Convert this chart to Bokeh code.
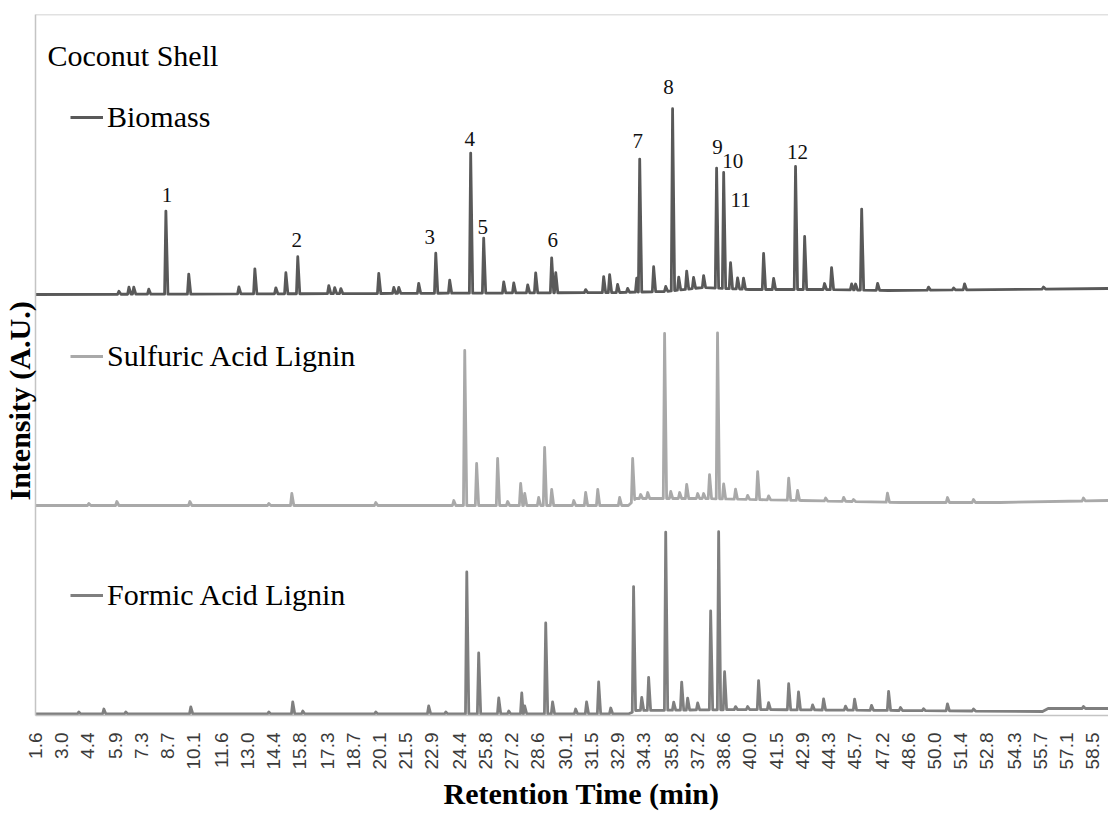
import numpy as np
from bokeh.plotting import figure
from bokeh.models import (Range1d, FixedTicker, NumeralTickFormatter, Label,
                          Legend, LegendItem, Span, ColumnDataSource, Title)
from bokeh.core.properties import value
from bokeh.embed import file_html
from bokeh.resources import INLINE

# ---------------------------------------------------------------------------
# Pyrolysis GC-MS chromatograms of coconut shell fractions
# Retention time in minutes, intensity in arbitrary units (stacked traces)
# ---------------------------------------------------------------------------
SAMPLE_NAMES = ["Biomass", "Sulfuric Acid Lignin", "Formic Acid Lignin"]

TICK_LABELS = ["1.6", "3.0", "4.4", "5.9", "7.3", "8.7", "10.1", "11.6", "13.0",
               "14.4", "15.8", "17.3", "18.7", "20.1", "21.5", "22.9", "24.4",
               "25.8", "27.2", "28.6", "30.1", "31.5", "32.9", "34.3", "35.8",
               "37.2", "38.6", "40.0", "41.5", "42.9", "44.3", "45.7", "47.2",
               "48.6", "50.0", "51.4", "52.8", "54.3", "55.7", "57.1", "58.5"]

# Biomass: baseline level (stack offset included) and peaks above it
BIOMASS_BASE_RT = [1.6, 20.0, 33.0, 35.5, 37.5, 40.0, 44.0, 47.5, 59.35]
BIOMASS_BASE = [421, 422, 423, 424, 428, 426, 426, 425, 427]
BIOMASS_RT = [6.07, 6.61, 6.87, 7.68, 8.60, 9.83, 12.53, 13.39, 14.52, 15.06,
              15.70, 17.37, 17.69, 18.02, 20.06, 20.87, 21.14, 22.21, 23.13,
              23.88, 25.01, 25.71, 26.79, 27.33, 28.08, 28.51, 29.37, 29.59,
              31.20, 32.17, 32.49, 32.92, 33.46, 33.95, 34.11, 34.86, 35.51,
              35.88, 36.21, 36.64, 37.01, 37.55, 38.25, 38.63, 39.00, 39.38,
              39.70, 40.78, 41.32, 42.50, 42.99, 44.06, 44.44, 45.52, 45.73,
              46.06, 46.92, 49.66, 51.01, 51.60, 55.85]
BIOMASS_H = [3, 7, 7, 5, 83, 20, 7, 25, 6, 21,
             37, 8, 6, 5, 20, 6, 6, 10, 40,
             13, 140, 55, 11, 10, 8, 20, 35, 20,
             3, 16, 18, 8, 4, 14, 133, 25, 5,
             182, 13, 18, 11, 12, 120, 116, 26, 11,
             11, 36, 11, 123, 53, 6, 22, 6, 6,
             81, 7, 3, 2, 6, 2]

# Sulfuric acid lignin
SULFURIC_BASE_RT = [1.6, 33.5, 33.9, 37.5, 42.8, 48.2, 53.5, 59.35]
SULFURIC_BASE = [210, 210, 217, 217, 215, 213, 213, 215]
SULFURIC_RT = [4.45, 5.96, 9.89, 14.14, 15.38, 19.90, 24.10, 24.69, 25.33,
               26.46, 27.00, 27.70, 27.92, 28.67, 28.99, 29.37, 30.56, 31.20,
               31.85, 33.03, 33.73, 34.16, 34.54, 35.45, 35.78, 36.26, 36.64,
               37.23, 37.55, 37.87, 38.30, 38.63, 39.27, 39.92, 40.46, 41.05,
               42.13, 42.61, 44.12, 45.09, 45.62, 47.45, 50.68, 52.08, 58.00]
SULFURIC_H = [2, 4, 4, 2, 12, 3, 5, 155, 42,
              47, 4, 22, 12, 8, 58, 16, 5, 13,
              16, 8, 43, 4, 6, 165, 7, 6, 14,
              5, 5, 24, 166, 15, 10, 4, 28, 4,
              22, 10, 3, 4, 2, 9, 5, 3, 3]

# Formic acid lignin
FORMIC_BASE_RT = [1.6, 33.5, 33.9, 40.0, 48.0, 55.8, 56.1, 59.35]
FORMIC_BASE = [1.5, 1.5, 5, 6, 5, 4, 7, 7]
FORMIC_RT = [3.91, 5.26, 6.44, 9.94, 14.14, 15.43, 15.97, 19.90, 22.75, 23.67,
             24.80, 25.44, 26.52, 27.06, 27.76, 27.92, 29.05, 29.42, 30.66,
             31.25, 31.90, 32.55, 33.78, 34.22, 34.59, 35.51, 35.94, 36.37,
             36.69, 37.23, 37.93, 38.36, 38.68, 39.27, 39.92, 40.51, 41.05,
             42.13, 42.66, 43.42, 44.01, 45.19, 45.68, 46.59, 47.51, 48.15,
             49.39, 50.68, 52.08, 58.00]
FORMIC_H = [2, 5, 2, 7, 2, 12, 3, 2, 8, 2,
            142, 61, 16, 3, 21, 8, 91, 12, 5,
            12, 32, 6, 125, 13, 33, 178, 8, 28,
            12, 7, 99, 178, 38, 3, 3, 29, 7,
            26, 18, 5, 11, 4, 11, 5, 19, 3,
            2, 7, 2, 2]

# Numbered compounds in the biomass trace
PEAK_IDS = ["1", "2", "3", "4", "5", "6", "7", "8", "9", "10", "11", "12"]
PEAK_ID_RT = [8.60, 15.70, 23.13, 25.01, 25.71, 29.37, 34.11, 35.88, 38.25,
              38.63, 39.00, 42.50]

# label nudges (screen px) so the numbers sit clear of the spikes
ID_DX = [1, -1, -6, -1, -1, 1, -2, -4, 1, 9, 10, 2]
ID_DY = [16, 17, 16, 14, 11, 18, 18, 22, 21, 11, 63, 15]

COLORS = ["#595959", "#A9A9A9", "#7F7F7F"]


def build_trace(base_rt, base_y, peak_rt, peak_h, lead=0.07, tail=0.11):
    """Polyline of a chromatogram: baseline knots plus a narrow spike per peak."""
    base_rt = np.asarray(base_rt, float)
    base_y = np.asarray(base_y, float)
    prt = np.asarray(peak_rt, float)
    ph = np.asarray(peak_h, float)
    assert len(prt) == len(ph)
    order = np.argsort(prt)
    prt, ph = prt[order], ph[order]
    mids = (prt[1:] + prt[:-1]) / 2.0
    left = prt - lead
    right = prt + tail
    left[1:] = np.maximum(left[1:], mids)
    right[:-1] = np.minimum(right[:-1], mids)

    pts = []
    for t, y in zip(base_rt, base_y):
        if not np.any((left <= t) & (t <= right)):
            pts.append((t, y))
    for l, t, r, h in zip(left, prt, right, ph):
        b = np.interp(t, base_rt, base_y)
        pts.append((l, np.interp(l, base_rt, base_y)))
        pts.append((t, b + h))
        pts.append((r, np.interp(r, base_rt, base_y)))
    pts.sort(key=lambda p: p[0])
    xs, ys = zip(*pts)
    return list(xs), list(ys)


traces = [
    build_trace(BIOMASS_BASE_RT, BIOMASS_BASE, BIOMASS_RT, BIOMASS_H),
    build_trace(SULFURIC_BASE_RT, SULFURIC_BASE, SULFURIC_RT, SULFURIC_H),
    build_trace(FORMIC_BASE_RT, FORMIC_BASE, FORMIC_RT, FORMIC_H),
]

p = figure(width=1108, height=813, output_backend="svg", toolbar_location=None,
           x_range=Range1d(1.58, 59.35), y_range=Range1d(0, 701),
           min_border_left=35, min_border_right=0, min_border_top=14,
           min_border_bottom=98)
p.outline_line_color = None
p.grid.visible = False
p.background_fill_color = "white"
p.border_fill_color = "white"

renderers = []
for (xs, ys), color in zip(traces, COLORS):
    src = ColumnDataSource(data=dict(rt=xs, intensity=ys))
    r = p.line("rt", "intensity", source=src, line_color=color, line_width=2.8,
               line_join="round")
    renderers.append(r)

# compound numbers above the biomass spikes
bio_idx = [BIOMASS_RT.index(t) for t in PEAK_ID_RT]
id_apex = [float(np.interp(BIOMASS_RT[i], BIOMASS_BASE_RT, BIOMASS_BASE)) + BIOMASS_H[i]
           for i in bio_idx]
id_src = ColumnDataSource(data=dict(rt=PEAK_ID_RT, apex=id_apex, label=PEAK_IDS,
                                    dx=ID_DX, dy=[-d for d in ID_DY]))
p.text(x="rt", y="apex", text="label", source=id_src, x_offset="dx", y_offset="dy",
       text_align="center", text_baseline="middle",
       text_font=value("Liberation Serif"), text_font_size="21px",
       text_color="#111111")

# axes
xa = p.xaxis[0]
xa.ticker = FixedTicker(ticks=[float(s) for s in TICK_LABELS])
xa.formatter = NumeralTickFormatter(format="0.0")
xa.major_label_orientation = np.pi / 2
xa.major_tick_out = 0
xa.major_tick_in = 0
xa.minor_tick_out = 0
xa.minor_tick_in = 0
xa.major_label_standoff = 17
xa.major_label_text_font = "Liberation Sans"
xa.major_label_text_font_size = "19px"
xa.major_label_text_color = "#3a3a3a"
xa.axis_line_color = "#C4C4C4"
xa.axis_line_width = 1.5

ya = p.yaxis[0]
ya.ticker = FixedTicker(ticks=[])
ya.major_tick_out = 0
ya.major_tick_in = 0
ya.minor_tick_out = 0
ya.minor_tick_in = 0
ya.major_label_text_font_size = "0px"
ya.major_label_standoff = 0
ya.axis_line_color = "#C4C4C4"
ya.axis_line_width = 1.5

p.add_layout(Span(location=701, dimension="width", line_color="#C4C4C4",
                  line_width=1.5))

# axis titles
p.add_layout(Title(text="Retention Time (min)", align="left", offset=408,
                   standoff=4, text_font="Liberation Serif",
                   text_font_style="bold", text_font_size="30px",
                   text_color="black"), "below")
p.add_layout(Title(text="Intensity (A.U.)", align="left", offset=215,
                   standoff=0, text_font="Liberation Serif",
                   text_font_style="bold", text_font_size="30px",
                   text_color="black"), "left")

# panel title
p.add_layout(Label(x=12, y=660, x_units="screen", y_units="screen",
                   text="Coconut Shell", text_baseline="alphabetic",
                   text_font="Liberation Serif", text_font_size="30px",
                   text_color="black"))

# one legend entry beside each trace
legend_locs = [(35, 581), (35, 342), (35, 103)]
for r, name, loc in zip(renderers, SAMPLE_NAMES, legend_locs):
    lg = Legend(items=[LegendItem(label=name, renderers=[r])], location=loc,
                padding=0, margin=0, spacing=0, glyph_width=33, glyph_height=20,
                label_standoff=4, label_text_font="Liberation Serif",
                label_text_font_size="30px", label_text_color="black",
                border_line_color=None, background_fill_alpha=0)
    p.add_layout(lg)

open("out.html", "w").write(file_html(p, INLINE))
